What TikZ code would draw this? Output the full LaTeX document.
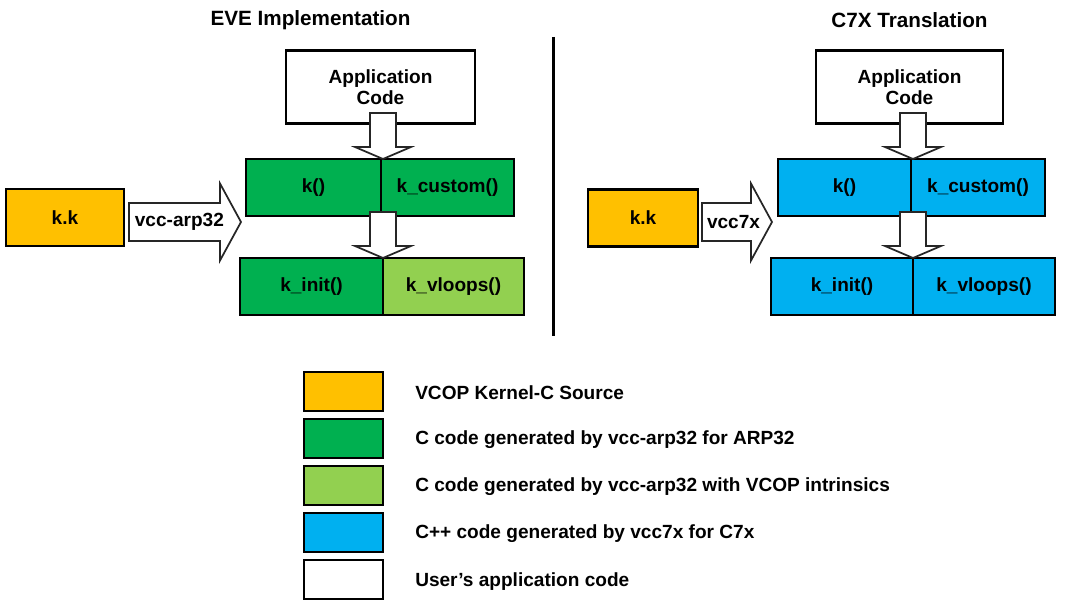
\documentclass[tikz,border=0pt]{standalone}
\usepackage{fontspec}
\setmainfont{Liberation Sans}
\usetikzlibrary{positioning,calc}
\definecolor{kernelorange}{HTML}{FFC000}
\definecolor{arpgreen}{HTML}{00B050}
\definecolor{vloopgreen}{HTML}{92D050}
\definecolor{cseven}{HTML}{00B0F0}
\newcommand{\lbl}{\fontsize{14.3}{15.8}\selectfont\bfseries}
\newcommand{\ttl}{\fontsize{15.5}{17}\selectfont\bfseries}
% block arrow pointing down, from the top of its shaft to its tip
\newcommand{\downblock}[2]{%
	\draw[blockarrow] ($(#1)+(-13,0)$) -- ($(#2)+(-13,-12)$) -- ($(#2)+(-28,-12)$)
		-- (#2) -- ($(#2)+(28,-12)$) -- ($(#2)+(13,-12)$) -- ($(#1)+(13,0)$) -- cycle;}
% block arrow pointing right, from its tail to its tip
\newcommand{\rightblock}[2]{%
	\draw[blockarrow] ($(#1)+(0,-19)$) -- ($(#2)+(-21,-19)$) -- ($(#2)+(-21,-38.5)$)
		-- (#2) -- ($(#2)+(-21,38.5)$) -- ($(#2)+(-21,19)$) -- ($(#1)+(0,19)$) -- cycle;}

\begin{document}
\begin{tikzpicture}[x=0.75pt,y=-0.75pt,
	box/.style = {draw, line width=1.8pt, outer sep=0pt, inner sep=0pt, font=\lbl,
		minimum height=42.75pt, align=center},
	legbox/.style = {draw, line width=1.8pt, outer sep=0pt, inner sep=0pt, minimum width=59.25pt, minimum height=29pt},
	legtext/.style = {font=\lbl, anchor=west, inner sep=0pt, yshift=-1.2pt},
	blockarrow/.style = {draw=black!85, fill=white, line width=1.3pt, line join=miter}]
	\useasboundingbox (0,0) rectangle (1066,606);

	% titles and divider
	\node[font=\ttl] (eveT) at (310.5,20) {EVE Implementation};
	\node[font=\ttl] (c7xT) at (909.5,20) {C7X Translation};
	\coordinate (divtop) at (553,37);
	\coordinate (divbot) at (553,336);
	\draw[line width=2.25pt] (divtop) -- (divbot);

	% EVE side
	\node[box, fill=kernelorange, minimum width=88.5pt] (kkL) at (65,217.5) {k.k};
	\node[box, fill=white, minimum width=141.75pt, minimum height=55pt] (appL) at (380.5,87) {Application\\Code};
	\node[box, fill=arpgreen, minimum width=101.25pt] (kL) at (313.5,187.5) {k()};
	\node[box, fill=arpgreen, minimum width=99.75pt, right=0pt of kL] (kcustomL) {k\_custom()};
	\node[box, fill=arpgreen, minimum width=107.25pt] (kinitL) at (311.5,286.5) {k\_init()};
	\node[box, fill=vloopgreen, minimum width=105.75pt, right=0pt of kinitL] (kvloopsL) {k\_vloops()};

	% C7X side
	\node[box, fill=kernelorange, minimum width=82.5pt] (kkR) at (643,218) {k.k};
	\node[box, fill=white, minimum width=140.25pt, minimum height=55pt] (appR) at (909.5,87) {Application\\Code};
	\node[box, fill=cseven, minimum width=99.75pt] (kR) at (844.5,187.5) {k()};
	\node[box, fill=cseven, minimum width=100.5pt, right=0pt of kR] (kcustomR) {k\_custom()};
	\node[box, fill=cseven, minimum width=106.5pt] (kinitR) at (842,286.5) {k\_init()};
	\node[box, fill=cseven, minimum width=106.5pt, right=0pt of kinitR] (kvloopsR) {k\_vloops()};

	% block arrows
	\coordinate (tipL1) at (kinitL.east |- kL.north);
	\coordinate (tipL2) at (kinitL.north east);
	\coordinate (tipR1) at (kinitR.east |- kR.north);
	\coordinate (tipR2) at (kinitR.north east);
	\downblock{$(tipL1)+(0,-46)$}{tipL1}
	\downblock{$(tipL2)+(0,-46)$}{tipL2}
	\downblock{$(tipR1)+(0,-46)$}{tipR1}
	\downblock{$(tipR2)+(0,-46)$}{tipR2}

	\coordinate (tailL) at ($(kkL.east)+(5,4.5)$);
	\coordinate (headL) at ($(tailL)+(112,0)$);
	\rightblock{tailL}{headL}
	\node[font=\lbl] (arpL) at ($(tailL)!0.45!(headL)$) {vcc-arp32};
	\coordinate (tailR) at ($(kkR.east)+(4,4)$);
	\coordinate (headR) at ($(tailR)+(70,0)$);
	\rightblock{tailR}{headR}
	\node[font=\lbl] (c7xL) at ($(tailR)!0.45!(headR)$) {vcc7x};

	% legend
	\node[legbox, fill=kernelorange] (legA) at (343.5,391.5) {};
	\node[legbox, fill=arpgreen, below=6.25pt of legA] (legB) {};
	\node[legbox, fill=vloopgreen, below=6.25pt of legB] (legC) {};
	\node[legbox, fill=cseven, below=6.25pt of legC] (legD) {};
	\node[legbox, fill=white, below=6.25pt of legD] (legE) {};
	\node[legtext, right=24pt of legA] (txtA) {VCOP Kernel-C Source};
	\node[legtext, right=24pt of legB] (txtB) {C code generated by vcc-arp32 for ARP32};
	\node[legtext, right=24pt of legC] (txtC) {C code generated by vcc-arp32 with VCOP intrinsics};
	\node[legtext, right=24pt of legD] (txtD) {C++ code generated by vcc7x for C7x};
	\node[legtext, right=24pt of legE] (txtE) {User's application code};
\end{tikzpicture}
\end{document}
